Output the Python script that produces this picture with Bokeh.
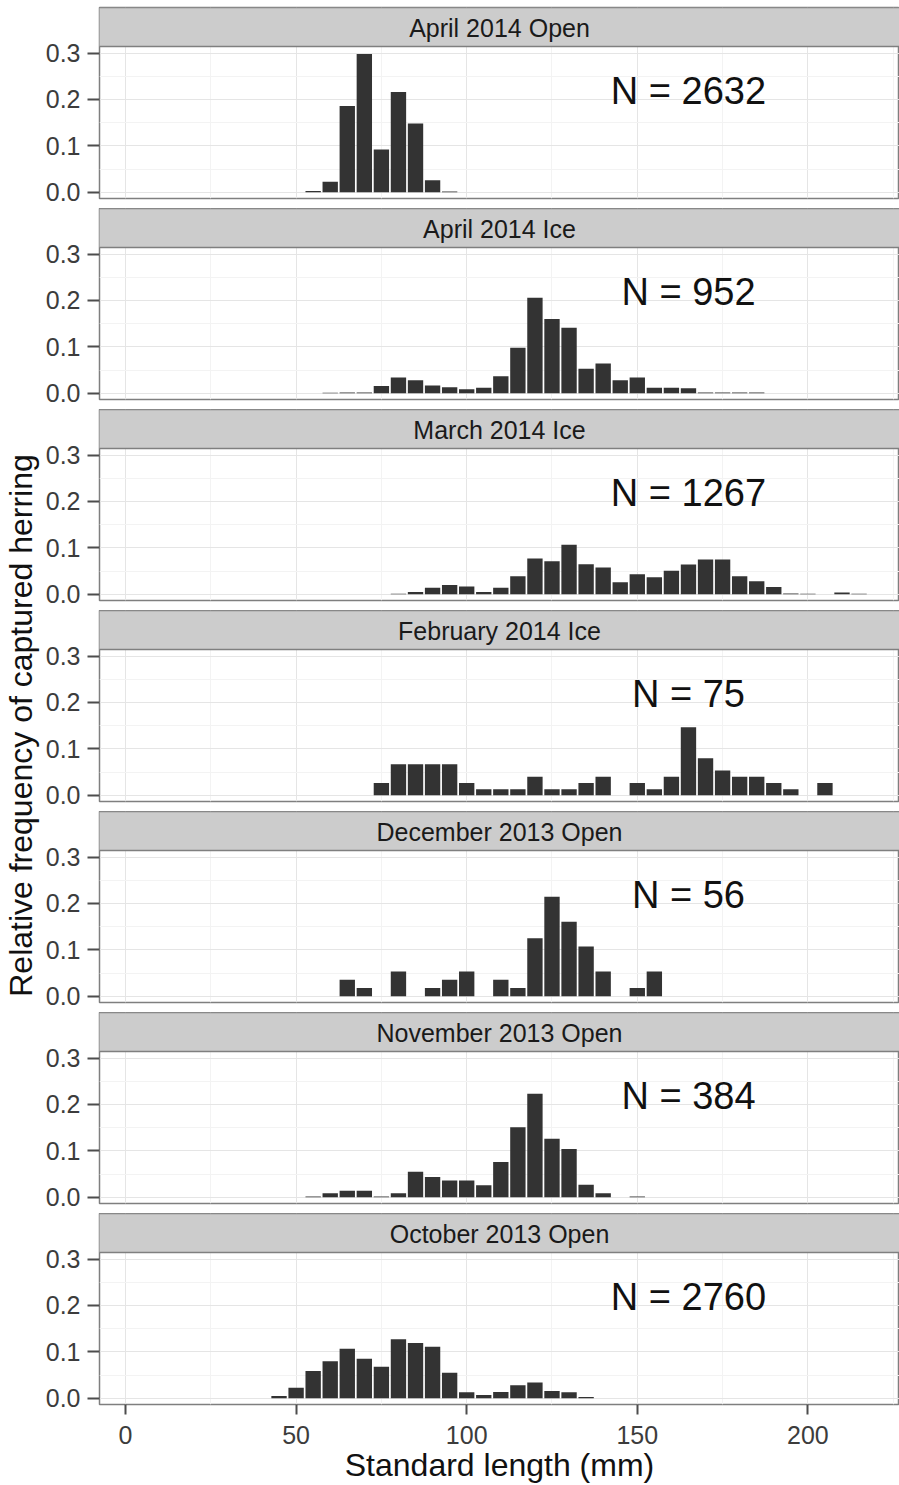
from bokeh.plotting import figure
from bokeh.layouts import column, row
from bokeh.models import Range1d, FixedTicker, PrintfTickFormatter, Grid
from bokeh.embed import file_html
from bokeh.resources import INLINE
from bokeh.core.properties import value

# ---------------- data ----------------
panel_titles = ["April 2014 Open", "April 2014 Ice", "March 2014 Ice", "February 2014 Ice",
                "December 2013 Open", "November 2013 Open", "October 2013 Open"]
sample_sizes = [2632, 952, 1267, 75, 56, 384, 2760]

apr14_open_mm = [55, 60, 65, 70, 75, 80, 85, 90, 95]
apr14_open_freq = [0.003, 0.023, 0.186, 0.298, 0.092, 0.216, 0.148, 0.026, 0.002]

apr14_ice_mm = [60, 65, 70, 75, 80, 85, 90, 95, 100, 105, 110, 115, 120, 125, 130,
                135, 140, 145, 150, 155, 160, 165, 170, 175, 180, 185]
apr14_ice_freq = [0.001, 0.002, 0.002, 0.016, 0.034, 0.028, 0.017, 0.013, 0.009, 0.012,
                  0.037, 0.098, 0.206, 0.160, 0.141, 0.053, 0.064, 0.028, 0.034, 0.012,
                  0.012, 0.011, 0.002, 0.002, 0.002, 0.002]

mar14_ice_mm = [80, 85, 90, 95, 100, 105, 110, 115, 120, 125, 130, 135, 140, 145, 150,
                155, 160, 165, 170, 175, 180, 185, 190, 195, 200, 210, 215]
mar14_ice_freq = [0.001, 0.005, 0.014, 0.020, 0.017, 0.005, 0.014, 0.039, 0.077, 0.071,
                  0.107, 0.065, 0.058, 0.026, 0.043, 0.037, 0.051, 0.064, 0.075, 0.075,
                  0.039, 0.028, 0.016, 0.002, 0.001, 0.004, 0.001]

feb14_ice_mm = [75, 80, 85, 90, 95, 100, 105, 110, 115, 120, 125, 130, 135, 140, 150,
                155, 160, 165, 170, 175, 180, 185, 190, 195, 205]
feb14_ice_freq = [0.0267, 0.0667, 0.0667, 0.0667, 0.0667, 0.0267, 0.0133, 0.0133, 0.0133,
                  0.0400, 0.0133, 0.0133, 0.0267, 0.0400, 0.0267, 0.0133, 0.0400, 0.1467,
                  0.0800, 0.0533, 0.0400, 0.0400, 0.0267, 0.0133, 0.0267]

dec13_open_mm = [65, 70, 80, 90, 95, 100, 110, 115, 120, 125, 130, 135, 140, 150, 155]
dec13_open_freq = [0.0357, 0.0179, 0.0536, 0.0179, 0.0357, 0.0536, 0.0357, 0.0179, 0.1250,
                   0.2143, 0.1607, 0.1071, 0.0536, 0.0179, 0.0536]

nov13_open_mm = [55, 60, 65, 70, 75, 80, 85, 90, 95, 100, 105, 110, 115, 120, 125, 130,
                 135, 140, 150]
nov13_open_freq = [0.002, 0.009, 0.014, 0.014, 0.002, 0.009, 0.055, 0.044, 0.036, 0.036,
                   0.026, 0.076, 0.151, 0.223, 0.126, 0.104, 0.027, 0.009, 0.002]

oct13_open_mm = [45, 50, 55, 60, 65, 70, 75, 80, 85, 90, 95, 100, 105, 110, 115, 120,
                 125, 130, 135]
oct13_open_freq = [0.005, 0.023, 0.059, 0.080, 0.107, 0.085, 0.068, 0.127, 0.119, 0.111,
                   0.055, 0.013, 0.007, 0.0135, 0.028, 0.034, 0.016, 0.013, 0.003]

panel_mm = [apr14_open_mm, apr14_ice_mm, mar14_ice_mm, feb14_ice_mm,
            dec13_open_mm, nov13_open_mm, oct13_open_mm]
panel_freq = [apr14_open_freq, apr14_ice_freq, mar14_ice_freq, feb14_ice_freq,
              dec13_open_freq, nov13_open_freq, oct13_open_freq]

x_ticks = [0, 50, 100, 150, 200]
x_minor = [25, 75, 125, 175, 225]
y_ticks = [0.0, 0.1, 0.2, 0.3]
y_minor = [0.05, 0.15, 0.25]
x_title = "Standard length (mm)"
y_title = "Relative frequency of captured herring"

# ---------------- layout / style ----------------
FONT = "Liberation Sans"
X_LO, X_HI = -7.62, 226.85
F_LO, F_HI = -0.0133, 0.314
TOP_PX, STRIP_PX, PANEL_PX, GAP_PX, XAXIS_PX = 7, 39, 152, 10, 81
LABEL_W, PANEL_W, LEFT_PX = 40, 859, 59
F_PER_PX = (F_HI - F_LO) / PANEL_PX
STRIP_F = STRIP_PX * F_PER_PX
BIN_W = 4.5
N_X, N_Y = 165, 0.218
TOTAL_H = TOP_PX + 7 * (STRIP_PX + PANEL_PX) + 6 * GAP_PX + XAXIS_PX

BAR = "#333333"
BORDER = "#7F7F7F"
STRIP_FILL = "#CCCCCC"
GRID_MAJOR = "#E5E5E5"
GRID_MINOR = "#F3F3F3"
TICK_TXT = "#3C3C3C"

shared_x = Range1d(X_LO, X_HI)
panels = []
n = len(panel_titles)
for k in range(n):
    last = k == n - 1
    top_pad = TOP_PX if k == 0 else 0
    bottom_pad = XAXIS_PX if last else GAP_PX
    h = STRIP_PX + PANEL_PX + top_pad + bottom_pad
    p = figure(width=PANEL_W, height=h, x_range=shared_x,
               y_range=Range1d(F_LO, F_HI + STRIP_F),
               output_backend="svg", toolbar_location=None,
               x_axis_location="below" if last else None, y_axis_location="left",
               min_border_left=LEFT_PX, min_border_right=0,
               min_border_top=top_pad, min_border_bottom=bottom_pad)
    p.grid.visible = False
    p.background_fill_color = "white"
    p.border_fill_color = "white"
    p.outline_line_color = BORDER
    p.outline_line_width = 1.5

    p.add_layout(Grid(dimension=0, ticker=FixedTicker(ticks=x_ticks, minor_ticks=x_minor),
                      grid_line_color=GRID_MAJOR, grid_line_width=1,
                      minor_grid_line_color=GRID_MINOR, minor_grid_line_width=1))
    p.add_layout(Grid(dimension=1, ticker=FixedTicker(ticks=y_ticks, minor_ticks=y_minor),
                      grid_line_color=GRID_MAJOR, grid_line_width=1,
                      minor_grid_line_color=GRID_MINOR, minor_grid_line_width=1))

    # bars
    p.vbar(x=panel_mm[k], top=panel_freq[k], bottom=0, width=BIN_W,
           fill_color=BAR, line_color=None)

    # facet strip
    p.quad(left=[X_LO - 5], right=[X_HI + 5], bottom=[F_HI], top=[F_HI + STRIP_F],
           fill_color=STRIP_FILL, line_color=BORDER, line_width=1.5)
    p.text(x=[(X_LO + X_HI) / 2], y=[F_HI + 18.5 * F_PER_PX], text=[panel_titles[k]],
           text_align="center", text_baseline="alphabetic",
           text_font=value(FONT), text_font_size="25px", text_color="#1A1A1A")

    # sample size annotation
    p.text(x=[N_X], y=[N_Y], text=["N = %d" % sample_sizes[k]],
           text_align="center", text_baseline="alphabetic",
           text_font=value(FONT), text_font_size="38px", text_color="#111111")

    # y axis
    ya = p.yaxis[0]
    ya.ticker = FixedTicker(ticks=y_ticks, minor_ticks=[])
    ya.formatter = PrintfTickFormatter(format="%.1f")
    ya.axis_line_color = None
    ya.major_tick_out = 12
    ya.major_tick_in = 0
    ya.major_tick_line_color = "#4D4D4D"
    ya.major_tick_line_width = 2
    ya.minor_tick_line_color = None
    ya.major_label_standoff = 7
    ya.major_label_text_font = FONT
    ya.major_label_text_font_size = "25px"
    ya.major_label_text_color = TICK_TXT

    if last:
        xa = p.xaxis[0]
        xa.ticker = FixedTicker(ticks=x_ticks, minor_ticks=[])
        xa.axis_line_color = None
        xa.major_tick_out = 10
        xa.major_tick_in = 0
        xa.major_tick_line_color = "#4D4D4D"
        xa.major_tick_line_width = 2
        xa.minor_tick_line_color = None
        xa.major_label_standoff = 11
        xa.major_label_text_font = FONT
        xa.major_label_text_font_size = "25px"
        xa.major_label_text_color = TICK_TXT
        xa.axis_label = x_title
        xa.axis_label_standoff = 0
        xa.axis_label_text_font = FONT
        xa.axis_label_text_font_size = "32px"
        xa.axis_label_text_font_style = "normal"
        xa.axis_label_text_color = "#111111"
    panels.append(p)

# y-axis title in a narrow strip to the left of the panels
lab = figure(width=LABEL_W, height=TOTAL_H, x_range=Range1d(0, LABEL_W),
             y_range=Range1d(0, TOTAL_H), output_backend="svg", toolbar_location=None,
             x_axis_location=None, y_axis_location=None, min_border=0)
lab.grid.visible = False
lab.outline_line_color = None
lab.text(x=[20], y=[TOTAL_H - 725], text=[y_title], angle=1.5707963267948966,
         text_align="center", text_baseline="alphabetic",
         text_font=value(FONT), text_font_size="32px", text_color="#111111")

layout = row(lab, column(*panels, spacing=0), spacing=0)
open("out.html", "w").write(file_html(layout, INLINE))
